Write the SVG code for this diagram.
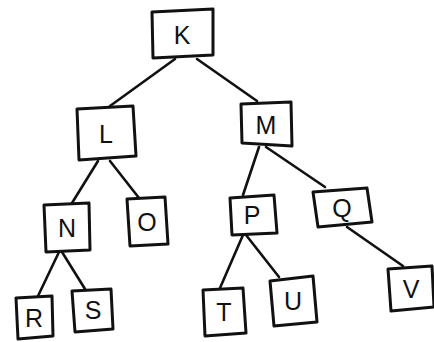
<svg xmlns="http://www.w3.org/2000/svg" width="434" height="342" viewBox="0 0 434 342">
<style>
.box{fill:#fff;stroke:#111;stroke-width:3;stroke-linejoin:round}
.lbl{font-family:"Liberation Sans",Arial,sans-serif;font-size:25px;fill:#111;text-anchor:middle;dominant-baseline:central}
.edge{stroke:#111;stroke-width:2.6;stroke-linecap:round;fill:none}
</style>
<rect width="434" height="342" fill="#fff"/>
<g id="connectors">
<line class="edge" x1="175" y1="59" x2="110" y2="106"/>
<line class="edge" x1="197" y1="59" x2="257" y2="101"/>
<line class="edge" x1="98" y1="161" x2="72" y2="203"/>
<line class="edge" x1="110" y1="161" x2="139" y2="198"/>
<line class="edge" x1="259" y1="147" x2="243" y2="195"/>
<line class="edge" x1="266" y1="147" x2="325" y2="187"/>
<line class="edge" x1="59" y1="252" x2="38" y2="296"/>
<line class="edge" x1="62" y1="252" x2="85" y2="289"/>
<line class="edge" x1="243" y1="235" x2="220" y2="288"/>
<line class="edge" x1="246" y1="235" x2="279" y2="277"/>
<line class="edge" x1="347" y1="227" x2="403" y2="266"/>
</g>
<g id="K"><polygon class="box" points="152,12 213,9 213,55 153,58"/><text class="lbl" x="182" y="35">K</text></g>
<g id="L"><polygon class="box" points="77,109 133,106 136,156 79,160"/><text class="lbl" x="106" y="134">L</text></g>
<g id="M"><polygon class="box" points="241,104 291,102 292,146 242,143"/><text class="lbl" x="266" y="125">M</text></g>
<g id="N"><polygon class="box" points="44,205 89,203 90,250 46,252"/><text class="lbl" x="67" y="228">N</text></g>
<g id="O"><polygon class="box" points="127,199 165,197 168,244 130,246"/><text class="lbl" x="147" y="222">O</text></g>
<g id="P"><polygon class="box" points="230,198 274,195 277,233 232,235"/><text class="lbl" x="252" y="215">P</text></g>
<g id="Q"><polygon class="box" points="313,192 367,188 372,222 318,227"/><text class="lbl" x="342" y="208">Q</text></g>
<g id="R"><polygon class="box" points="16,298 52,296 53,336 18,339"/><text class="lbl" x="34" y="318">R</text></g>
<g id="S"><polygon class="box" points="72,291 111,289 113,329 75,332"/><text class="lbl" x="93" y="310">S</text></g>
<g id="T"><polygon class="box" points="203,290 243,288 246,333 205,336"/><text class="lbl" x="224" y="312">T</text></g>
<g id="U"><polygon class="box" points="270,281 313,276 317,322 274,326"/><text class="lbl" x="293" y="301">U</text></g>
<g id="V"><polygon class="box" points="388,269 432,266 434,307 391,311"/><text class="lbl" x="411" y="289">V</text></g>
</svg>
